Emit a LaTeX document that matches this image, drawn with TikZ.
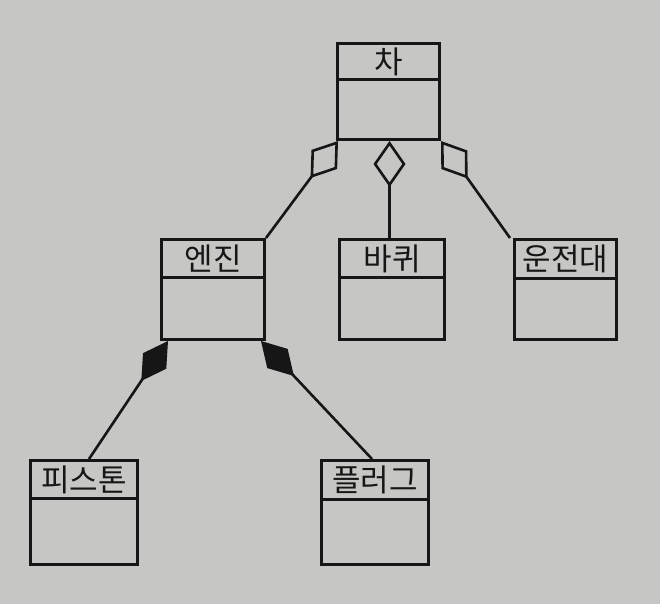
\documentclass[tikz,border=0pt]{standalone}
\usepackage{fontspec}
\setmainfont{Noto Sans CJK KR}
\usetikzlibrary{arrows.meta,calc}
\definecolor{bg}{RGB}{198,198,196}
\definecolor{ink}{RGB}{22,22,22}
\tikzset{
  classbox/.style={draw=ink, line width=3pt, rectangle, inner sep=0pt, anchor=north west},
  headbox/.style={draw=ink, line width=3pt, rectangle, inner sep=0pt, anchor=north west,
    font=\fontsize{31}{33}\selectfont, text=ink},
  link/.style={draw=ink, line width=2.6pt},
  aggr/.style={link, {Diamond[open, fill=bg, length=46pt, width=32pt, line width=2.6pt]}-},
  comp/.style={link, {Diamond[fill=ink, length=48pt, width=28pt]}-},
}
\begin{document}
\begin{tikzpicture}[x=1pt,y=-1pt]
\fill[bg] (0,0) rectangle (660,604);
\useasboundingbox (0,0) rectangle (660,604);
% classes
\node[classbox, minimum width=102pt, minimum height=96pt] (car) at (336,42) {};
\node[headbox, minimum width=102pt, minimum height=36pt] (carh) at (car.north west) {차};
\node[classbox, minimum width=103pt, minimum height=100pt] (engine) at (160,238) {};
\node[headbox, minimum width=103pt, minimum height=38pt] (engineh) at (engine.north west) {엔진};
\node[classbox, minimum width=105pt, minimum height=100pt] (wheel) at (338,238) {};
\node[headbox, minimum width=105pt, minimum height=38pt] (wheelh) at (wheel.north west) {바퀴};
\node[classbox, minimum width=102pt, minimum height=100pt] (steer) at (513,238) {};
\node[headbox, minimum width=102pt, minimum height=39pt] (steerh) at (steer.north west) {운전대};
\node[classbox, minimum width=107pt, minimum height=104pt] (piston) at (29,459) {};
\node[headbox, minimum width=107pt, minimum height=38pt] (pistonh) at (piston.north west) {피스톤};
\node[classbox, minimum width=107pt, minimum height=104pt] (plug) at (320,459) {};
\node[headbox, minimum width=107pt, minimum height=39pt] (plugh) at (plug.north west) {플러그};
% attachment points
\coordinate (cL) at ($(car.south west)+(2,0)$);
\coordinate (cM) at ($(car.south)+(1,0)$);
\coordinate (cR) at (car.south east);
\coordinate (eL) at ($(engine.south west)+(8,0)$);
\coordinate (eR) at ($(engine.south east)+(-5,0)$);
\coordinate (pT) at ($(piston.north)+(5,0)$);
\coordinate (gT) at ($(plug.north)+(-3,0)$);
\coordinate (sT) at ($(steer.north west)+(-3,0)$);
\coordinate (wT) at (cM |- wheel.north);
% connectors
\draw[aggr] (cL) -- (engine.north east);
\draw[aggr] (cM) -- (wT);
\draw[aggr] (cR) -- (sT);
\draw[comp] (eL) -- (pT);
\draw[comp] (eR) -- (gT);
\end{tikzpicture}
\end{document}
